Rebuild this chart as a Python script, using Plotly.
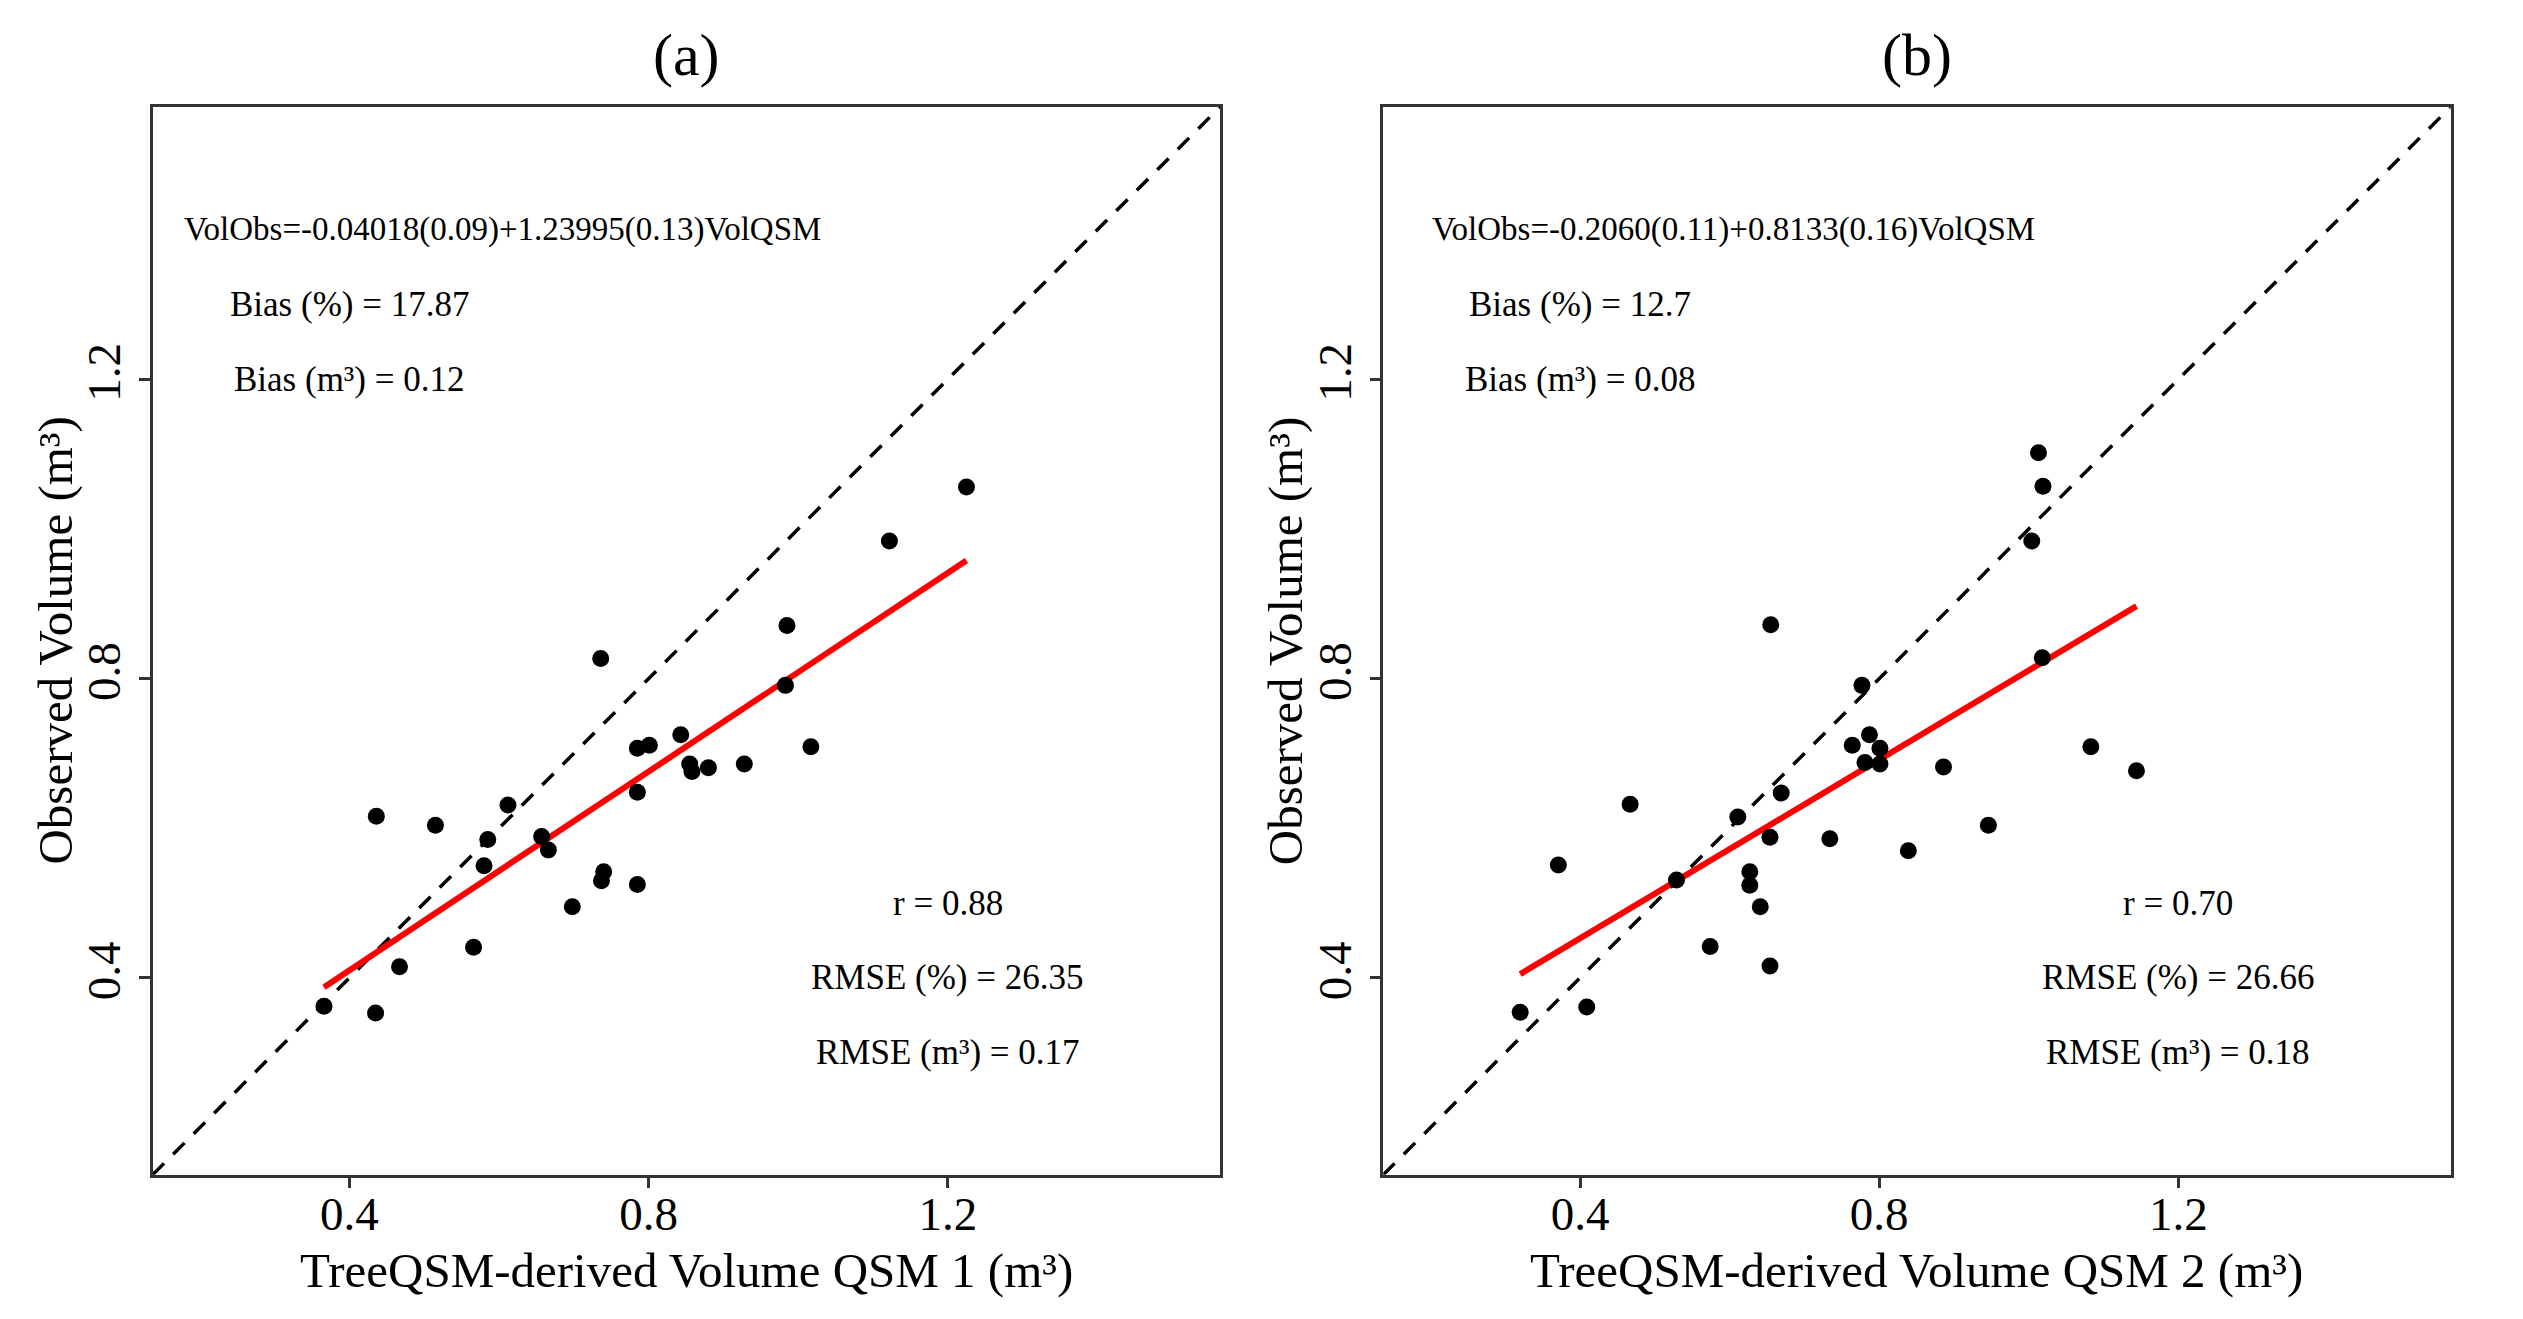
import numpy as np
import plotly.graph_objects as go
from plotly.subplots import make_subplots

# ---- data ----
qsm1_vol = [0.366, 0.435, 0.467, 0.566, 0.436, 0.515, 0.585, 0.580, 0.612, 0.657,
            0.666, 0.698, 0.740, 0.737, 0.785, 0.736, 0.785, 0.785, 0.801, 0.843,
            0.855, 0.858, 0.880, 0.928, 1.017, 0.983, 0.985, 1.122, 1.225]
obs1_vol = [0.362, 0.353, 0.415, 0.441, 0.616, 0.604, 0.585, 0.550, 0.631, 0.589,
            0.571, 0.495, 0.542, 0.530, 0.525, 0.827, 0.648, 0.707, 0.711, 0.725,
            0.686, 0.676, 0.681, 0.686, 0.709, 0.791, 0.871, 0.984, 1.056]

qsm2_vol = [0.320, 0.409, 0.371, 0.467, 0.529, 0.574, 0.611, 0.654, 0.655, 0.669,
            0.654, 0.627, 0.627, 0.641, 0.734, 0.777, 0.764, 0.787, 0.801, 0.781,
            0.801, 0.886, 0.839, 0.946, 1.083, 1.144, 1.018, 1.004, 1.019, 1.013]
obs2_vol = [0.354, 0.361, 0.551, 0.632, 0.531, 0.442, 0.615, 0.416, 0.872, 0.647,
            0.588, 0.542, 0.524, 0.495, 0.586, 0.791, 0.711, 0.725, 0.707, 0.688,
            0.686, 0.682, 0.570, 0.604, 0.709, 0.677, 0.828, 0.984, 1.057, 1.102]

panel_titles = ["(a)", "(b)"]
x_titles = ["TreeQSM-derived Volume QSM 1 (m³)", "TreeQSM-derived Volume QSM 2 (m³)"]
y_title = "Observed Volume (m³)"
equations = ["VolObs=-0.04018(0.09)+1.23995(0.13)VolQSM",
             "VolObs=-0.2060(0.11)+0.8133(0.16)VolQSM"]
upper_stats = [["Bias (%) = 17.87", "Bias (m³) = 0.12"],
               ["Bias (%) = 12.7", "Bias (m³) = 0.08"]]
lower_stats = [["r = 0.88", "RMSE (%) = 26.35", "RMSE (m³) = 0.17"],
               ["r = 0.70", "RMSE (%) = 26.66", "RMSE (m³) = 0.18"]]
tick_vals = [0.4, 0.8, 1.2]
axis_range = [0.137, 1.564]

FONT = "Liberation Serif"
W, H = 2523, 1319

fig = make_subplots(rows=1, cols=2)

panels = [(qsm1_vol, obs1_vol), (qsm2_vol, obs2_vol)]
for i, (xv, yv) in enumerate(panels):
    col = i + 1
    # 1:1 line across the whole panel
    fig.add_trace(go.Scatter(x=axis_range, y=axis_range, mode="lines",
                             line=dict(color="black", width=3.5, dash="16px,13px"),
                             showlegend=False, hoverinfo="skip"), row=1, col=col)
    # least squares fit
    slope, intercept = np.polyfit(xv, yv, 1)
    fx = np.array([min(xv), max(xv)])
    fig.add_trace(go.Scatter(x=fx, y=intercept + slope * fx, mode="lines",
                             line=dict(color="#ff0000", width=6),
                             showlegend=False), row=1, col=col)
    fig.add_trace(go.Scatter(x=xv, y=yv, mode="markers",
                             marker=dict(color="black", size=17),
                             showlegend=False), row=1, col=col)

x_domains = [[152.7 / W, 1220 / W], [1383.3 / W, 2450.6 / W]]
y_domain = [1 - 1174.7 / H, 1 - 107 / H]

axis_style = dict(range=axis_range, tickvals=tick_vals, showgrid=False, zeroline=False,
                  showline=True, mirror=True, linecolor="#333333", linewidth=2.5,
                  ticks="outside", ticklen=11, tickwidth=3, tickcolor="#333333",
                  tickfont=dict(family=FONT, size=47, color="black"))

annotations = []
for i in range(2):
    suffix = "" if i == 0 else str(i + 1)
    fig.layout["xaxis" + suffix].update(domain=x_domains[i], ticklabelstandoff=-15, **axis_style)
    fig.layout["yaxis" + suffix].update(domain=y_domain, tickangle=-90, **axis_style)
    xc = (x_domains[i][0] + x_domains[i][1]) / 2
    centred = dict(xref="paper", yref="paper", xanchor="center", yanchor="middle", showarrow=False)
    annotations.append(dict(text=panel_titles[i], x=xc, y=1 - 55 / H,
                            font=dict(family=FONT, size=60, color="black"), **centred))
    annotations.append(dict(text=x_titles[i], x=xc, y=1 - 1270 / H,
                            font=dict(family=FONT, size=49, color="black"), **centred))
    annotations.append(dict(text=y_title, x=x_domains[i][0] - 97 / W, y=(y_domain[0] + y_domain[1]) / 2,
                            textangle=-90, font=dict(family=FONT, size=49, color="black"), **centred))
    xr, yr = "x" + suffix, "y" + suffix
    annotations.append(dict(text=equations[i], x=0.605, y=1.4, xref=xr, yref=yr, showarrow=False,
                            font=dict(family=FONT, size=33, color="black")))
    for txt, yy in zip(upper_stats[i], [1.3, 1.2]):
        annotations.append(dict(text=txt, x=0.4, y=yy, xref=xr, yref=yr, showarrow=False,
                                font=dict(family=FONT, size=35, color="black")))
    for txt, yy in zip(lower_stats[i], [0.5, 0.4, 0.3]):
        annotations.append(dict(text=txt, x=1.2, y=yy, xref=xr, yref=yr, showarrow=False,
                                font=dict(family=FONT, size=35, color="black")))

fig.update_layout(width=W, height=H, margin=dict(l=0, r=0, t=0, b=0),
                  paper_bgcolor="white", plot_bgcolor="white",
                  annotations=annotations, font=dict(family=FONT))

fig.write_html("out.html", config={"displayModeBar": False},
               post_script="document.body.style.margin='0';")
